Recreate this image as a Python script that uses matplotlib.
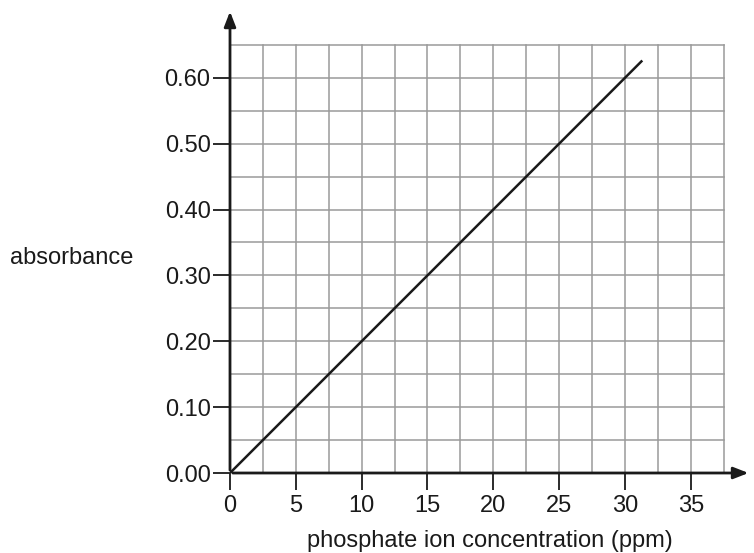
import numpy as np
import matplotlib.pyplot as plt

# calibration line: absorbance vs phosphate concentration
conc = [0, 31.25]
absorb = [0.0, 0.625]

x_ticks = [0, 5, 10, 15, 20, 25, 30, 35]
y_ticks = [0.00, 0.10, 0.20, 0.30, 0.40, 0.50, 0.60]
y_labels = ['0.00', '0.10', '0.20', '0.30', '0.40', '0.50', '0.60']

x_grid = np.arange(0, 37.51, 2.5)
y_grid = np.arange(0, 0.651, 0.05)

plt.rcParams['font.family'] = ['Liberation Sans', 'DejaVu Sans']

fig = plt.figure(figsize=(7.54, 5.53), dpi=100)
ax = fig.add_axes([230 / 754, 80 / 553, 520 / 754, 461 / 553])
ax.set_xlim(0, 39.5)
ax.set_ylim(0, 0.70)

gc = '#9a9a9a'
for gx in x_grid[1:]:
    ax.plot([gx, gx], [0, 0.65], color=gc, lw=1.1, zorder=1)
for gy in y_grid[1:]:
    ax.plot([0, 37.5], [gy, gy], color=gc, lw=1.1, zorder=1)

ax.plot(conc, absorb, color='#1a1a1a', lw=1.8, zorder=3)

for s in ax.spines.values():
    s.set_visible(False)

# axes with arrows
ax.annotate('', xy=(39.6, 0), xytext=(0, 0),
            arrowprops=dict(arrowstyle='-|>,head_length=0.9,head_width=0.35', color='#1a1a1a', lw=2),
            annotation_clip=False, zorder=4)
ax.annotate('', xy=(0, 0.705), xytext=(0, 0),
            arrowprops=dict(arrowstyle='-|>,head_length=0.9,head_width=0.35', color='#1a1a1a', lw=2),
            annotation_clip=False, zorder=4)

ax.set_xticks(x_ticks)
ax.set_yticks(y_ticks)
ax.set_yticklabels(y_labels)
ax.tick_params(direction='out', length=12, width=1.3, color='#1a1a1a',
               labelsize=17, labelcolor='#1a1a1a', pad=2)
ax.tick_params(axis='x', pad=4)

ax.set_xlabel('phosphate ion concentration (ppm)', fontsize=17, color='#1a1a1a', labelpad=9)
fig.text(10 / 754, 1 - 258 / 553, 'absorbance', fontsize=17, color='#1a1a1a',
         ha='left', va='center')

plt.savefig('out.png', dpi=100)
